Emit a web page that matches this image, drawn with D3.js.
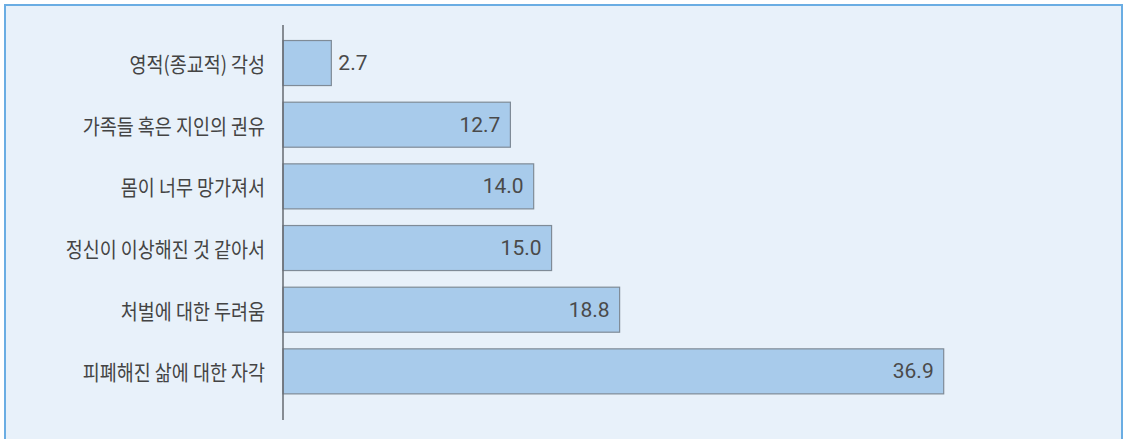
<!DOCTYPE html>
<html>
<head>
<meta charset="utf-8">
<script src="https://cdn.jsdelivr.net/npm/d3@7"></script>
<style>
  html, body { margin: 0; padding: 0; background: #ffffff; }
  svg { display: block; }
</style>
</head>
<body>
<svg id="chart" width="1123" height="439"></svg>
<script>
const categories = [
  "영적(종교적) 각성",
  "가족들 혹은 지인의 권유",
  "몸이 너무 망가져서",
  "정신이 이상해진 것 같아서",
  "처벌에 대한 두려움",
  "피폐해진 삶에 대한 자각"
];
const values = [2.7, 12.7, 14.0, 15.0, 18.8, 36.9];

const svg = d3.select("#chart");
const W = 1123, H = 439;

// panel
svg.append("rect")
  .attr("x", 5).attr("y", 5)
  .attr("width", W - 6).attr("height", H + 10)
  .attr("fill", "#e8f1fa")
  .attr("stroke", "#6aade3")
  .attr("stroke-width", 2);

const x0 = 283;
const x = d3.scaleLinear().domain([0, 36.9]).range([x0, 943.7]);
const y = d3.scaleBand()
  .domain(categories)
  .range([31.7, 401.7])
  .paddingInner(0.27)
  .paddingOuter(0.135);

const g = svg.append("g");

g.selectAll("rect.bar")
  .data(values)
  .join("rect")
  .attr("class", "bar")
  .attr("x", x0)
  .attr("y", (d, i) => y(categories[i]) + 0.5)
  .attr("width", d => x(d) - x0)
  .attr("height", y.bandwidth())
  .attr("fill", "#a8cbeb")
  .attr("stroke", "#7f8b97")
  .attr("stroke-width", 1.2);

// axis line
g.append("line")
  .attr("x1", x0).attr("x2", x0)
  .attr("y1", 25).attr("y2", 420)
  .attr("stroke", "#666a70")
  .attr("stroke-width", 1.5);

// category labels
g.selectAll("text.cat")
  .data(categories)
  .join("text")
  .attr("class", "cat")
  .attr("transform", d => `translate(265,${y(d) + y.bandwidth() / 2 + 0.5}) scale(0.88,1)`)
  .attr("text-anchor", "end")
  .attr("dominant-baseline", "central")
  .attr("font-family", "'Noto Sans CJK KR', 'Noto Sans', sans-serif")
  .attr("font-size", 21)
  .attr("fill", "#444444")
  .text(d => d);

// value labels
g.selectAll("text.val")
  .data(values)
  .join("text")
  .attr("class", "val")
  .attr("x", d => (x(d) - x0 < 60) ? x(d) + 7 : x(d) - 10)
  .attr("y", (d, i) => y(categories[i]) + y.bandwidth() / 2 + 0.5)
  .attr("text-anchor", d => (x(d) - x0 < 60) ? "start" : "end")
  .attr("dominant-baseline", "central")
  .attr("font-family", "Roboto, 'Noto Sans', sans-serif")
  .attr("font-size", 21)
  .attr("fill", "#4a4a4a")
  .text(d => d.toFixed(1));
</script>
</body>
</html>
